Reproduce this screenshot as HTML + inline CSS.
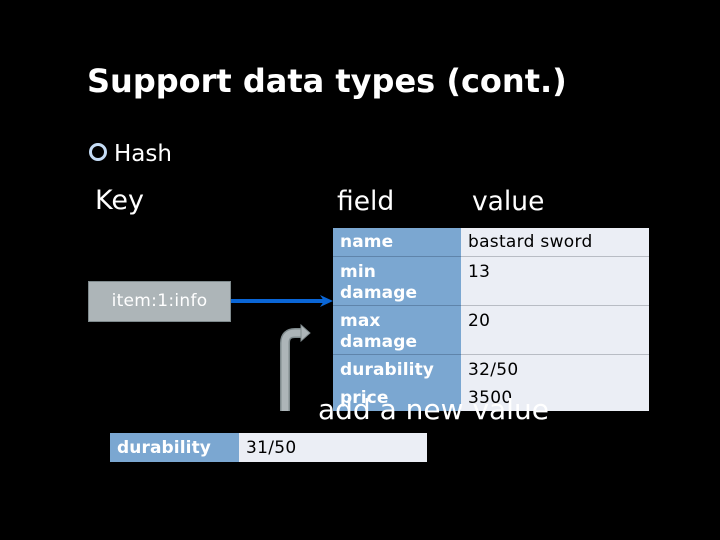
<!DOCTYPE html>
<html><head><style>
body{margin:0;width:720px;height:540px;background:#000;position:relative;overflow:hidden;font-family:"DejaVu Sans",sans-serif;color:#fff}
.a{position:absolute;white-space:nowrap}
.l{background:#7ba7d1;color:#fff;font-weight:bold;font-size:17px;letter-spacing:0.1px;line-height:21px;padding:5px 7px 4px;box-sizing:border-box}
.v{background:#ebeef5;color:#000;font-size:17px;letter-spacing:0.3px;line-height:21px;padding:5px 7px 4px;box-sizing:border-box}
</style></head><body>
<div class="a" style="left:87px;top:62px;font-size:32px;font-weight:bold">Support data types (cont.)</div>
<div class="a" style="left:89px;top:143px;width:12px;height:12px;border:3px solid #c5dcf5;border-radius:50%"></div>
<div class="a" style="left:114px;top:141px;font-size:23px">Hash</div>
<div class="a" style="left:95px;top:185px;font-size:27px">Key</div>
<div class="a" style="left:337px;top:186px;font-size:26.5px">field</div>
<div class="a" style="left:472px;top:186px;font-size:26.5px">value</div>

<div class="a" style="left:333px;top:228px;width:316px;height:183px;background:#ebeef5"></div>
<div class="a l" style="left:333px;top:228px;width:128px;height:28px;padding-top:4px">name</div>
<div class="a v" style="left:461px;top:228px;width:188px;height:28px;padding-top:4px">bastard sword</div>
<div class="a l" style="left:333px;top:256px;width:128px;height:49px;border-top:1px solid #5f84aa">min<br>damage</div>
<div class="a v" style="left:461px;top:256px;width:188px;height:49px;border-top:1px solid #b8bcc4">13</div>
<div class="a l" style="left:333px;top:305px;width:128px;height:49px;border-top:1px solid #5f84aa">max<br>damage</div>
<div class="a v" style="left:461px;top:305px;width:188px;height:49px;border-top:1px solid #b8bcc4">20</div>
<div class="a l" style="left:333px;top:354px;width:128px;height:57px;border-top:1px solid #5f84aa;line-height:28px;padding-top:1px">durability<br>price</div>
<div class="a v" style="left:461px;top:354px;width:188px;height:57px;border-top:1px solid #b8bcc4;line-height:28px;padding-top:1px">32/50<br>3500</div>

<div class="a" style="left:88px;top:281px;width:143px;height:41px;background:#adb5b8;border:1px solid #7f8a8d;box-sizing:border-box;font-size:17px;letter-spacing:0.3px;text-align:center;line-height:39px;color:#fff">item:1:info</div>
<svg class="a" style="left:0;top:0" width="720" height="540">
<line x1="231" y1="301" x2="326" y2="301" stroke="#0a66d6" stroke-width="4"/>
<path d="M320 295 L333 301 L320 307 L324 301Z" fill="#0a66d6"/>
<path d="M285 411 L285 343 Q285 333 295 333 L303 333" fill="none" stroke="#7f8a8d" stroke-width="10"/>
<path d="M285 411 L285 343 Q285 333 295 333 L303 333" fill="none" stroke="#adb5b8" stroke-width="7"/>
<path d="M301 325 L310 333 L301 341Z" fill="#adb5b8" stroke="#7f8a8d"/>
</svg>
<div class="a" style="left:318px;top:393px;font-size:28px">add a new value</div>
<div class="a l" style="left:110px;top:433px;width:129px;height:29px">durability</div>
<div class="a v" style="left:239px;top:433px;width:188px;height:29px">31/50</div>
</body></html>
